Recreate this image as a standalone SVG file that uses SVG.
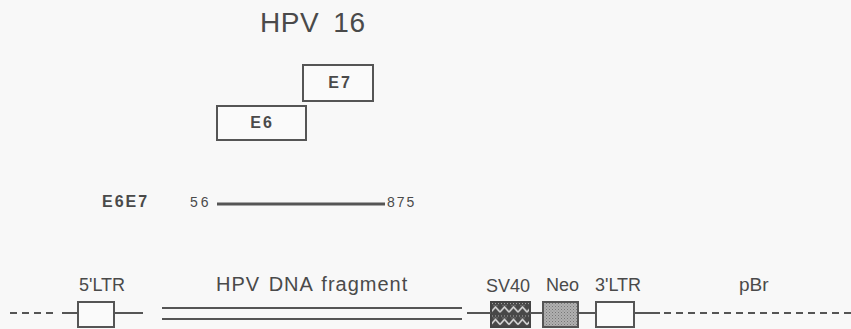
<svg xmlns="http://www.w3.org/2000/svg" width="851" height="329" viewBox="0 0 851 329">
<style>
.t{font-family:"Liberation Sans",Arial,sans-serif;fill:#4a4a4a}
.b{font-weight:bold}
.box{fill:#fafafa;stroke:#555;stroke-width:2}
.ln{stroke:#555;stroke-width:2;fill:none}
.ds{stroke:#555;stroke-width:2;fill:none;stroke-dasharray:7 5}
</style>
<defs>
<pattern id="zig" x="491" y="302" width="9" height="12.5" patternUnits="userSpaceOnUse">
<rect width="9" height="12.5" fill="#484848"/>
<rect x="1" y="1" width="1" height="1" fill="#aaa"/>
<rect x="4" y="1" width="1" height="1" fill="#aaa"/>
<rect x="7" y="1" width="1" height="1" fill="#aaa"/>
<rect x="2.5" y="3" width="1" height="1" fill="#999"/>
<rect x="5.5" y="3" width="1" height="1" fill="#999"/>
<path d="M0 10 L4.5 5 L9 10" stroke="#e0e0e0" stroke-width="1.4" fill="none"/>
</pattern>
<pattern id="dots" width="3" height="3" patternUnits="userSpaceOnUse">
<rect width="3" height="3" fill="#b0b0b0"/>
<rect x="0" y="0" width="1" height="1" fill="#777"/>
<rect x="1.5" y="1.5" width="1" height="1" fill="#888"/>
</pattern>
</defs>
<rect width="851" height="329" fill="#f8f8f8"/>
<g id="title"><text class="t" x="260" y="32" font-size="28" word-spacing="6" letter-spacing="0.5">HPV 16</text></g>
<g id="E7"><rect class="box" x="303" y="65" width="70" height="36"/><text class="t b" x="340" y="88" font-size="16" letter-spacing="2" text-anchor="middle">E7</text></g>
<g id="E6"><rect class="box" x="217" y="106" width="89" height="34"/><text class="t b" x="262" y="128" font-size="16" letter-spacing="2" text-anchor="middle">E6</text></g>
<g id="E6E7">
<text class="t b" x="102" y="207" font-size="16" letter-spacing="2">E6E7</text>
<text class="t" x="190" y="207" font-size="14" letter-spacing="3">56</text>
<line x1="217" y1="204" x2="385" y2="204" stroke="#555" stroke-width="3"/>
<text class="t" x="387" y="207" font-size="14" letter-spacing="2">875</text>
</g>
<g id="LTR5"><rect class="box" x="78" y="302" width="36" height="25"/><text class="t" x="79" y="291" font-size="18">5'LTR</text></g>
<g id="HPVDNA"><text class="t" x="216" y="291" font-size="20" letter-spacing="1" word-spacing="2">HPV DNA fragment</text>
<line class="ln" x1="162" y1="308" x2="462" y2="308"/><line class="ln" x1="162" y1="319" x2="462" y2="319"/></g>
<g id="SV40"><rect x="491" y="302" width="39" height="25" fill="url(#zig)" stroke="#444" stroke-width="2"/><text class="t" x="486" y="292" font-size="18">SV40</text></g>
<g id="Neo"><rect x="543" y="302" width="35" height="25" fill="url(#dots)" stroke="#555" stroke-width="2"/><text class="t" x="546" y="291" font-size="18">Neo</text></g>
<g id="LTR3"><rect class="box" x="596" y="302" width="38" height="25"/><text class="t" x="595" y="291" font-size="18">3'LTR</text></g>
<g id="pBr"><text class="t" x="739" y="291" font-size="19">pBr</text></g>
<g id="connectors">
<line class="ds" x1="10" y1="313" x2="55" y2="313"/>
<line class="ln" x1="62" y1="313" x2="78" y2="313"/>
<line class="ln" x1="114" y1="313" x2="143" y2="313"/>
<line class="ln" x1="467" y1="313" x2="491" y2="313"/>
<line class="ln" x1="530" y1="313" x2="543" y2="313"/>
<line class="ln" x1="578" y1="313" x2="596" y2="313"/>
<line class="ln" x1="634" y1="313" x2="660" y2="313"/>
<line class="ds" x1="664" y1="313" x2="851" y2="313"/>
</g>
</svg>
